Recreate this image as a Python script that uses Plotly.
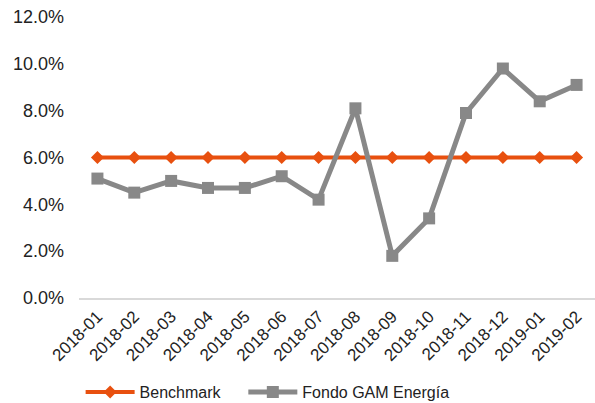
import plotly.graph_objects as go

months = ["2018-01", "2018-02", "2018-03", "2018-04", "2018-05", "2018-06", "2018-07",
          "2018-08", "2018-09", "2018-10", "2018-11", "2018-12", "2019-01", "2019-02"]
benchmark = [6.0] * 14
fondo = [5.1, 4.5, 5.0, 4.7, 4.7, 5.2, 4.2, 8.1, 1.8, 3.4, 7.9, 9.8, 8.4, 9.1]
yticks = [0, 2, 4, 6, 8, 10, 12]

ORANGE = "#E8500F"
GRAY = "#888888"
FONT = "Liberation Sans, Arial, sans-serif"
NBSP = "\u00a0"

fig = go.Figure()
fig.add_trace(go.Scatter(
    x=months, y=benchmark, name="Benchmark" + NBSP * 4, mode="lines+markers",
    line=dict(color=ORANGE, width=4),
    marker=dict(symbol="diamond", size=10, color=ORANGE),
))
fig.add_trace(go.Scatter(
    x=months, y=fondo, name="Fondo GAM Energía", mode="lines+markers",
    line=dict(color=GRAY, width=5),
    marker=dict(symbol="square", size=12, color=GRAY),
))

fig.update_layout(
    width=595, height=403,
    margin=dict(l=79, r=0, t=17, b=105),
    paper_bgcolor="white", plot_bgcolor="white",
    font=dict(family=FONT, size=17, color="#222222"),
    showlegend=True,
    legend=dict(orientation="h", xref="container", yref="container",
                x=0.1355, y=0.0273, xanchor="left", yanchor="middle",
                font=dict(size=16, color="#222222"), itemwidth=49,
                traceorder="normal", tracegroupgap=0),
    xaxis=dict(type="category", range=[-0.5, 13.5], tickangle=-45,
               showgrid=False, showline=True, linecolor="#D9D9D9", linewidth=2,
               ticks="", tickfont=dict(size=17), automargin=False),
    yaxis=dict(range=[0, 12], tickvals=yticks,
               ticktext=[f"{v:.1f}%" for v in yticks],
               showgrid=False, zeroline=False, showline=False,
               ticks="", ticklabelstandoff=14, tickfont=dict(size=18),
               automargin=False),
)

fig.write_html("out.html", config={"displayModeBar": False},
               post_script="document.body.style.margin='0';")
